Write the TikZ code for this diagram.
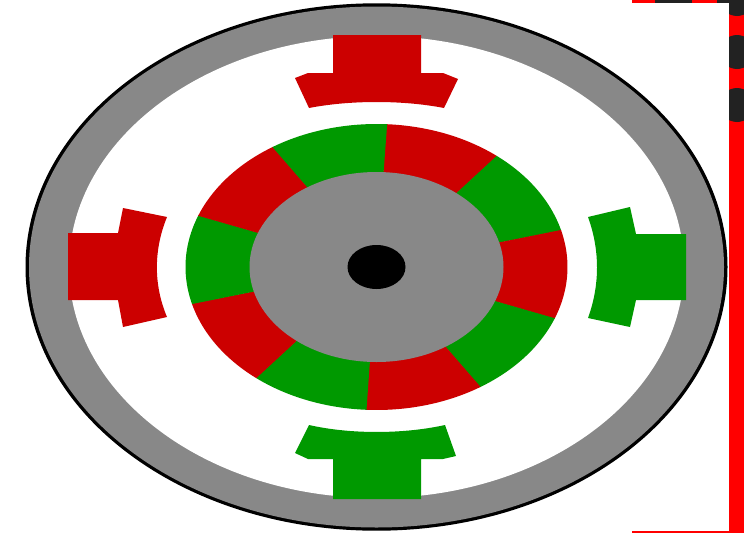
\documentclass[tikz,border=0pt]{standalone}
\definecolor{polered}{HTML}{CC0000}
\definecolor{polegreen}{HTML}{009900}
\definecolor{steel}{HTML}{888888}
\definecolor{dark}{HTML}{222222}
\definecolor{edge}{HTML}{FF0000}
\begin{document}
\begin{tikzpicture}[x=1pt,y=-1pt]
\useasboundingbox (0,0) rectangle (744,533);
\def\cx{376.5}\def\cy{267}
% frame
\fill[edge] (632,0) rectangle (744,2.7);
\fill[edge] (632,531) rectangle (744,533);
\fill[edge] (729,0) rectangle (744,533);
\fill[dark] (655,0) rectangle (692,2.7);
\fill[dark] (717,0) rectangle (744,2.7);
\begin{scope}
\clip (729,0) rectangle (744,533);
\fill[dark] (737,-1) circle (17);
\fill[dark] (737,52) circle (17);
\fill[dark] (737,105) circle (17);
\end{scope}
% stator
\fill[black] (\cx,\cy) ellipse (351 and 263.7);
\fill[steel] (\cx,\cy) ellipse (347.5 and 260.5);
\fill[white] (\cx,\cy) ellipse (307.5 and 231);
% poles
\fill[polered] (333,35) -- (333,73) -- (308,73) -- (295,78) -- (309,108) .. controls (350,100) and (403,100) .. (444,108) -- (458,79) -- (443,73) -- (421,73) -- (421,35) -- cycle;
\fill[polegreen] (333,499) -- (333,459) -- (308,459) -- (295,453) -- (309,425) .. controls (350,434.3) and (403,434.3) .. (445,425) -- (456,456) -- (443,459) -- (421,459) -- (421,499) -- cycle;
\fill[polered] (68,233) -- (118,233) -- (123,208) -- (167,217) .. controls (153.5,250) and (153.5,285) .. (167,317) -- (123,327) -- (118,300) -- (68,300) -- cycle;
\fill[polegreen] (686,234) -- (636,234) -- (630,207) -- (588,217) .. controls (600,250) and (600,285) .. (588,318) -- (630,327) -- (636,300) -- (686,300) -- cycle;
% rotor
\foreach \a/\c in {3/polered,39/polegreen,75/polered,111/polegreen,147/polered,183/polegreen,219/polered,255/polegreen,291/polered,327/polegreen}{
  \fill[\c] (\cx,\cy) -- plot[domain=\a:\a+36.2,samples=20,smooth] ({\cx+191*sin(\x)},{\cy-143*cos(\x)}) -- cycle;
}
\fill[steel] (\cx,\cy) ellipse (127 and 95);
\fill[black] (\cx,\cy) ellipse (29 and 22);
\end{tikzpicture}
\end{document}
